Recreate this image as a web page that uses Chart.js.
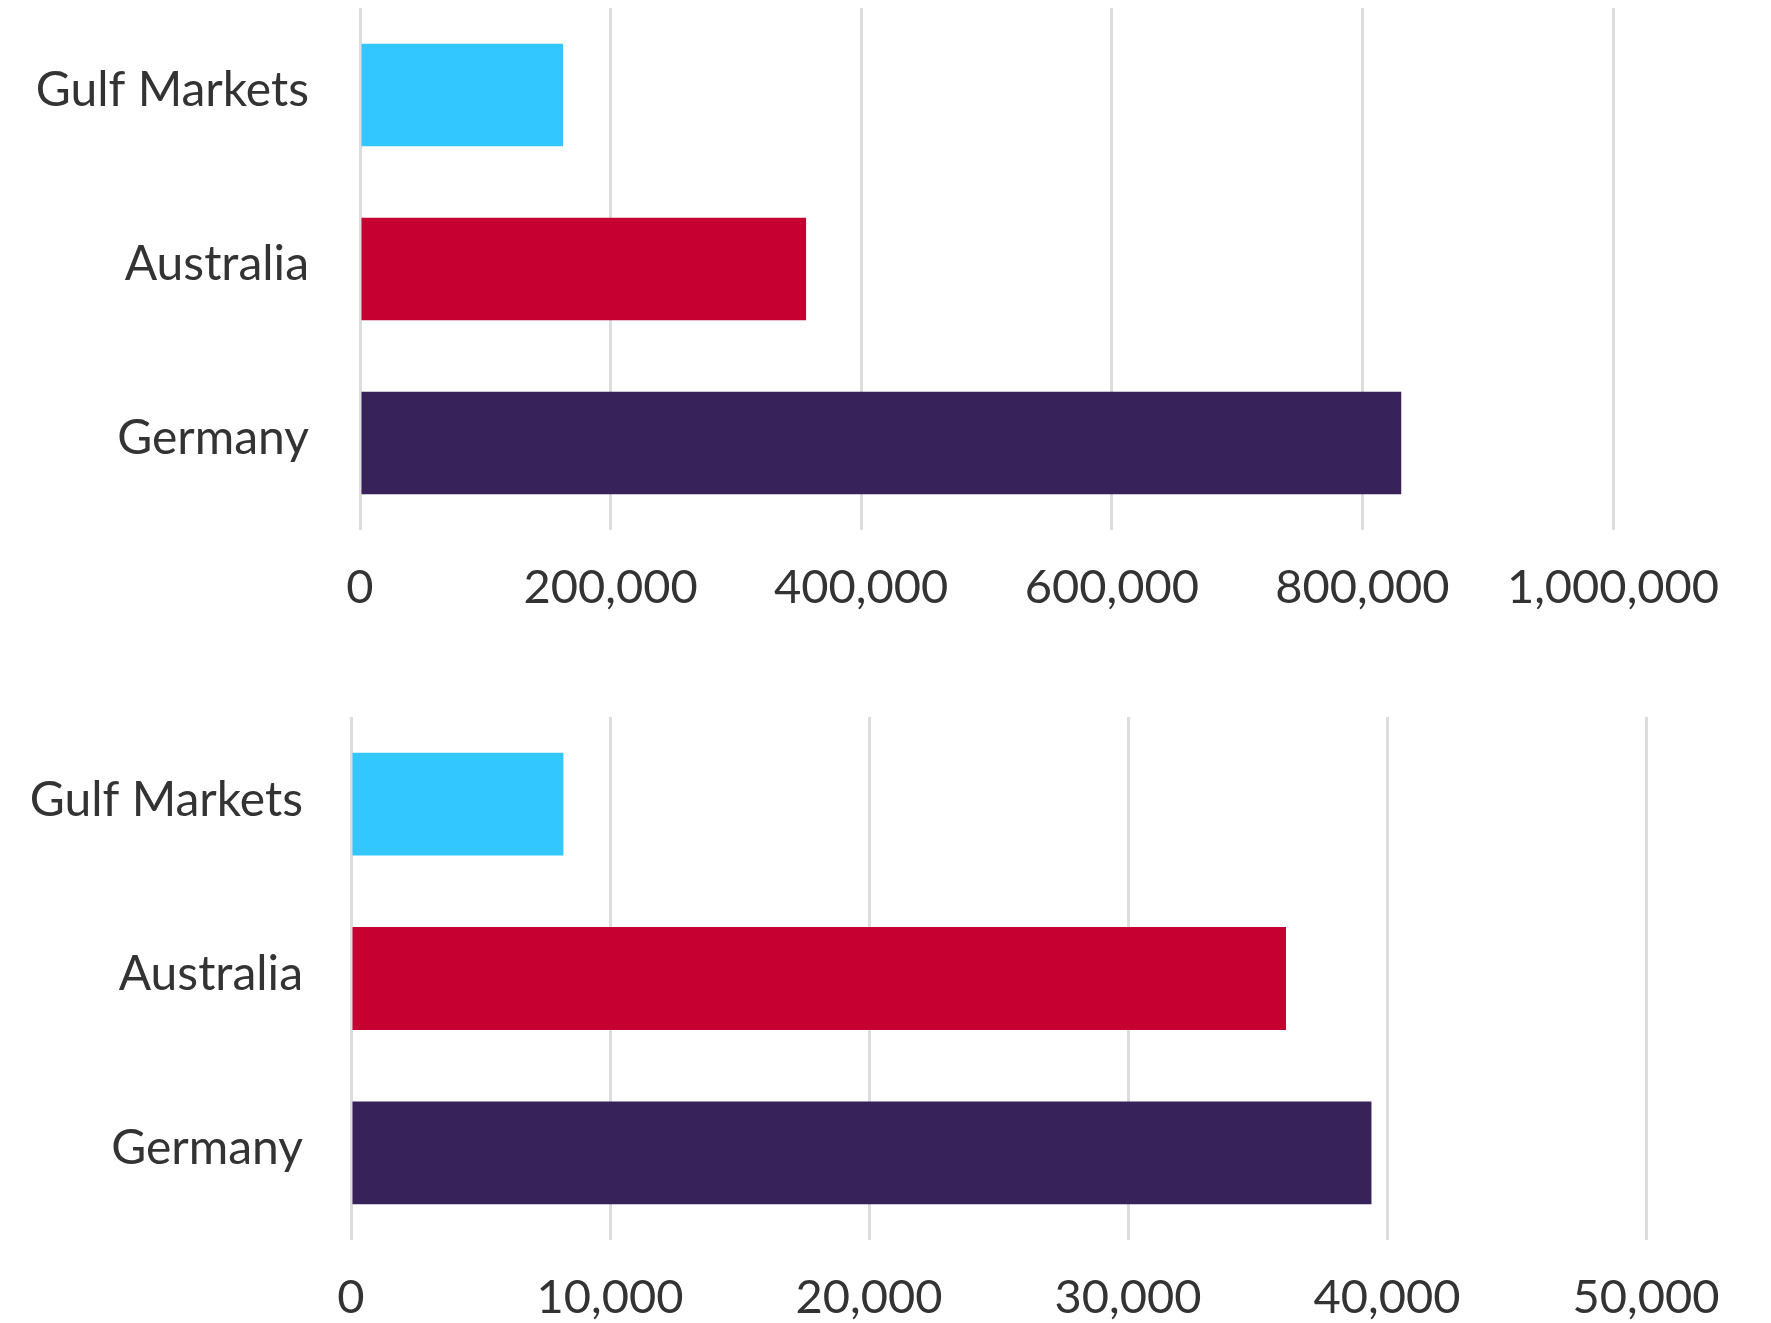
<!DOCTYPE html>
<html>
<head>
<meta charset="utf-8">
<script src="https://cdn.jsdelivr.net/npm/chart.js@4/dist/chart.umd.min.js"></script>
<style>
  html, body { margin: 0; padding: 0; background: #fff; }
  body { width: 1771px; height: 1323px; position: relative; overflow: hidden; }
  .box { position: absolute; left: 0; width: 1771px; }
  #b1 { top: 0; height: 650px; }
  #b2 { top: 660px; height: 663px; }
</style>
</head>
<body>
<div class="box" id="b1"><canvas id="c1"></canvas></div>
<div class="box" id="b2"><canvas id="c2"></canvas></div>
<script>
const categories = ['Gulf Markets', 'Australia', 'Germany'];
const barColors = ['#33C7FF', '#C70032', '#38225A'];
const topValues = [162000, 356000, 831000];
const topTicks = [0, 200000, 400000, 600000, 800000, 1000000];
const bottomValues = [8200, 36100, 39400];
const bottomTicks = [0, 10000, 20000, 30000, 40000, 50000];

const FONT = 'Lato, "Open Sans", sans-serif';
const TEXT = '#333333';
const GRID = '#DDDDDD';

function makeChart(id, values, ticks, cfg) {
  const max = ticks[ticks.length - 1];
  return new Chart(document.getElementById(id), {
    type: 'bar',
    data: {
      labels: categories,
      datasets: [{
        data: values,
        backgroundColor: barColors,
        borderWidth: 0,
        barPercentage: 0.59,
        categoryPercentage: 1.0
      }]
    },
    options: {
      indexAxis: 'y',
      responsive: true,
      maintainAspectRatio: false,
      animation: false,
      layout: { padding: { top: cfg.padTop, right: cfg.padRight, bottom: 0, left: 0 } },
      plugins: { legend: { display: false }, tooltip: { enabled: false } },
      scales: {
        x: {
          min: 0, max: max,
          afterBuildTicks: (s) => { s.ticks = ticks.map(v => ({ value: v })); },
          afterFit: (s) => { s.height = cfg.xHeight; s.paddingLeft = 0; s.paddingRight = 0; },
          grid: { color: GRID, lineWidth: 3, drawTicks: false },
          border: { display: false },
          ticks: {
            padding: cfg.xPad,
            color: TEXT,
            font: { family: FONT, size: 47 },
            maxRotation: 0,
            callback: (v) => Number(v).toLocaleString('en-US')
          }
        },
        y: {
          afterFit: (s) => { s.width = cfg.yWidth; s.paddingTop = 0; s.paddingBottom = 0; },
          grid: { display: false, drawTicks: false },
          border: { display: false },
          ticks: {
            padding: cfg.yPad,
            labelOffset: -4,
            color: TEXT,
            font: { family: FONT, size: 48 }
          }
        }
      }
    }
  });
}

makeChart('c1', topValues, topTicks, { padTop: 8, padRight: 158, xHeight: 120, yWidth: 360, xPad: 30, yPad: 51 });
makeChart('c2', bottomValues, bottomTicks, { padTop: 57, padRight: 125, xHeight: 83, yWidth: 351, xPad: 30, yPad: 48 });
</script>
</body>
</html>
